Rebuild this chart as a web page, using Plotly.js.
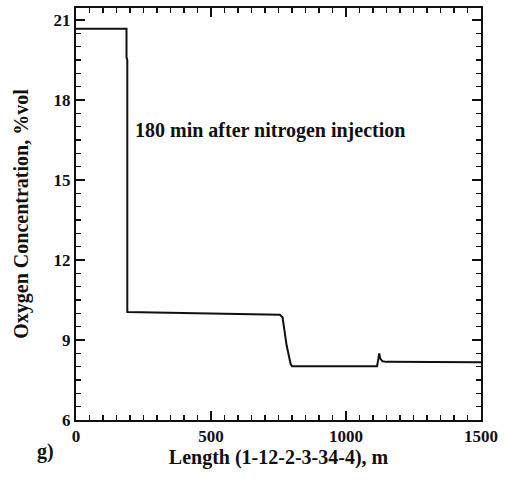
<!DOCTYPE html>
<html><head><meta charset="utf-8">
<script src="https://cdn.plot.ly/plotly-3.0.1.min.js"></script>
<style>body{margin:0;background:#fff}#c{width:505px;height:482px}</style>
</head><body><div id="c"></div>
<script>
const lengthM = [0, 187, 187, 190, 190, 400, 600, 755, 765, 780, 795, 800, 1000, 1115, 1120, 1123, 1127, 1135, 1150, 1500];
const oxygen  = [20.67, 20.67, 19.6, 19.5, 10.05, 10.02, 9.98, 9.95, 9.85, 8.8, 8.1, 8.02, 8.02, 8.02, 8.3, 8.5, 8.3, 8.2, 8.18, 8.17];
const xTicks = [0, 500, 1000, 1500];
const yTicks = [6, 9, 12, 15, 18, 21];
const fam = 'Liberation Serif, Times New Roman, serif';
const font = {family: fam, size: 20, color: '#111'};
const tickFont = {family: fam, size: 17, color: '#111'};
const axBase = {ticks: 'inside', mirror: 'allticks', showline: true, linewidth: 2, linecolor: '#111',
  tickwidth: 1.5, ticklen: 9, tickcolor: '#111', showgrid: false, zeroline: false, tickfont: tickFont};
Plotly.newPlot('c', [{x: lengthM, y: oxygen, type: 'scatter', mode: 'lines',
  line: {color: '#111', width: 2}, hoverinfo: 'none'}], {
  width: 505, height: 482, margin: {l: 76, r: 24, t: 8, b: 62},
  paper_bgcolor: '#fff', plot_bgcolor: '#fff', showlegend: false, font: font,
  xaxis: Object.assign({}, axBase, {range: [0, 1500], tickvals: xTicks,
    ticktext: xTicks.map(v => '<b>' + v + '</b>'),
    minor: {dtick: 50, ticks: 'inside', ticklen: 5, tickcolor: '#111', tickwidth: 1.5},
    title: {text: '<b>Length (1-12-2-3-34-4), m</b>', font: font, standoff: 4}}),
  yaxis: Object.assign({}, axBase, {range: [6, 21.45], tickvals: yTicks,
    ticktext: yTicks.map(v => '<b>' + v + '</b>'),
    minor: {dtick: 0.5, ticks: 'inside', ticklen: 5, tickcolor: '#111', tickwidth: 1.5},
    title: {text: '<b>Oxygen Concentration, %vol</b>', font: font, standoff: 20}}),
  annotations: [
    {x: 212, y: 16.87, xref: 'x', yref: 'y', xanchor: 'left', yanchor: 'middle', showarrow: false,
     text: '<b>180 min after nitrogen injection</b>', font: font},
    {x: 40, y: 463, xref: 'paper', yref: 'paper', showarrow: false, text: '<b>g)</b>', font: font}
  ]
}, {staticPlot: true});
const gd = document.getElementById('c');
Plotly.relayout(gd, {'annotations[1].xref': 'paper', 'annotations[1].yref': 'paper',
  'annotations[1].x': (35 - 76) / 405, 'annotations[1].y': -(465 - 420) / 412});
</script></body></html>
